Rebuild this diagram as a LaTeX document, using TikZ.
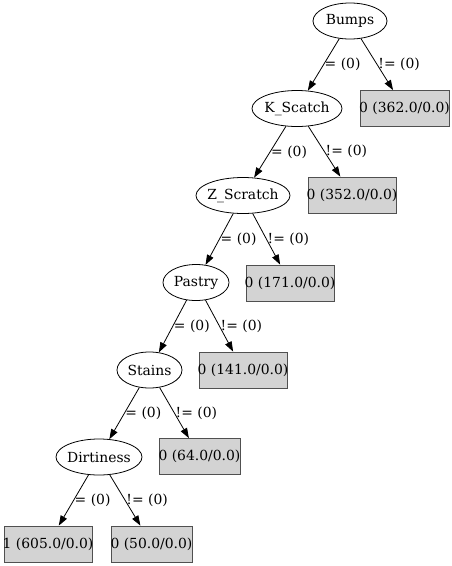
\documentclass[tikz,border=0pt]{standalone}
\usepackage{fontspec}
\setmainfont{DejaVu Serif}
\usetikzlibrary{arrows.meta,shapes.geometric,calc}
\definecolor{leafgray}{HTML}{D3D3D3}
\definecolor{leafline}{HTML}{505050}
\begin{document}
\begin{tikzpicture}[x=1pt,y=-1pt,
  every node/.style={font=\fontsize{13.9}{16}\selectfont},
  dec/.style={draw=black, ellipse, minimum height=36pt, inner sep=0pt, line width=0.8pt},
  leaf/.style={draw=leafline, fill=leafgray, rectangle, minimum height=36pt, inner sep=0pt, line width=0.8pt},
  edgeto/.style={-{Triangle[length=10pt,width=7pt]}, line width=0.8pt},
  lab/.style={anchor=west, inner sep=0pt, xshift=1pt}]
\useasboundingbox (0,0) rectangle (452,566);
% decision nodes
\node[dec, minimum width=74pt] (bumps) at (350,21) {\makebox[0pt]{Bumps}};
\node[dec, minimum width=90pt] (ks) at (297,108.5) {\makebox[0pt]{K\_Scatch}};
\node[dec, minimum width=94pt] (zs) at (243,195.5) {\makebox[0pt]{Z\_Scratch}};
\node[dec, minimum width=66pt] (pa) at (196,282.5) {\makebox[0pt]{Pastry}};
\node[dec, minimum width=65pt] (st) at (149.5,370) {\makebox[0pt]{Stains}};
\node[dec, minimum width=86pt] (di) at (99,457) {\makebox[0pt]{Dirtiness}};
% leaves
\node[leaf, minimum width=89pt] (l1) at (404.5,108.5) {\makebox[0pt]{0 (362.0/0.0)}};
\node[leaf, minimum width=88pt] (l2) at (352,195) {\makebox[0pt]{0 (352.0/0.0)}};
\node[leaf, minimum width=88pt] (l3) at (290,283) {\makebox[0pt]{0 (171.0/0.0)}};
\node[leaf, minimum width=88pt] (l4) at (243,370) {\makebox[0pt]{0 (141.0/0.0)}};
\node[leaf, minimum width=81pt] (l5) at (199.5,456.5) {\makebox[0pt]{0 (64.0/0.0)}};
\node[leaf, minimum width=88pt] (l6) at (48,544) {\makebox[0pt]{1 (605.0/0.0)}};
\node[leaf, minimum width=81pt] (l7) at (151.5,544) {\makebox[0pt]{0 (50.0/0.0)}};
% edges
\draw[edgeto] (bumps) -- (ks);
\node[lab] at ($(bumps)!0.5!(ks)$) {= (0)};
\draw[edgeto] (bumps) -- (l1);
\node[lab] at ($(bumps)!0.5!(l1)$) {!= (0)};
\draw[edgeto] (ks) -- (zs);
\node[lab] at ($(ks)!0.5!(zs)$) {= (0)};
\draw[edgeto] (ks) -- (l2);
\node[lab] at ($(ks)!0.5!(l2)$) {!= (0)};
\draw[edgeto] (zs) -- (pa);
\node[lab] at ($(zs)!0.5!(pa)$) {= (0)};
\draw[edgeto] (zs) -- (l3);
\node[lab] at ($(zs)!0.5!(l3)$) {!= (0)};
\draw[edgeto] (pa) -- (st);
\node[lab] at ($(pa)!0.5!(st)$) {= (0)};
\draw[edgeto] (pa) -- (l4);
\node[lab] at ($(pa)!0.5!(l4)$) {!= (0)};
\draw[edgeto] (st) -- (di);
\node[lab] at ($(st)!0.5!(di)$) {= (0)};
\draw[edgeto] (st) -- (l5);
\node[lab] at ($(st)!0.5!(l5)$) {!= (0)};
\draw[edgeto] (di) -- (l6);
\node[lab] at ($(di)!0.5!(l6)$) {= (0)};
\draw[edgeto] (di) -- (l7);
\node[lab] at ($(di)!0.5!(l7)$) {!= (0)};
\end{tikzpicture}
\end{document}
